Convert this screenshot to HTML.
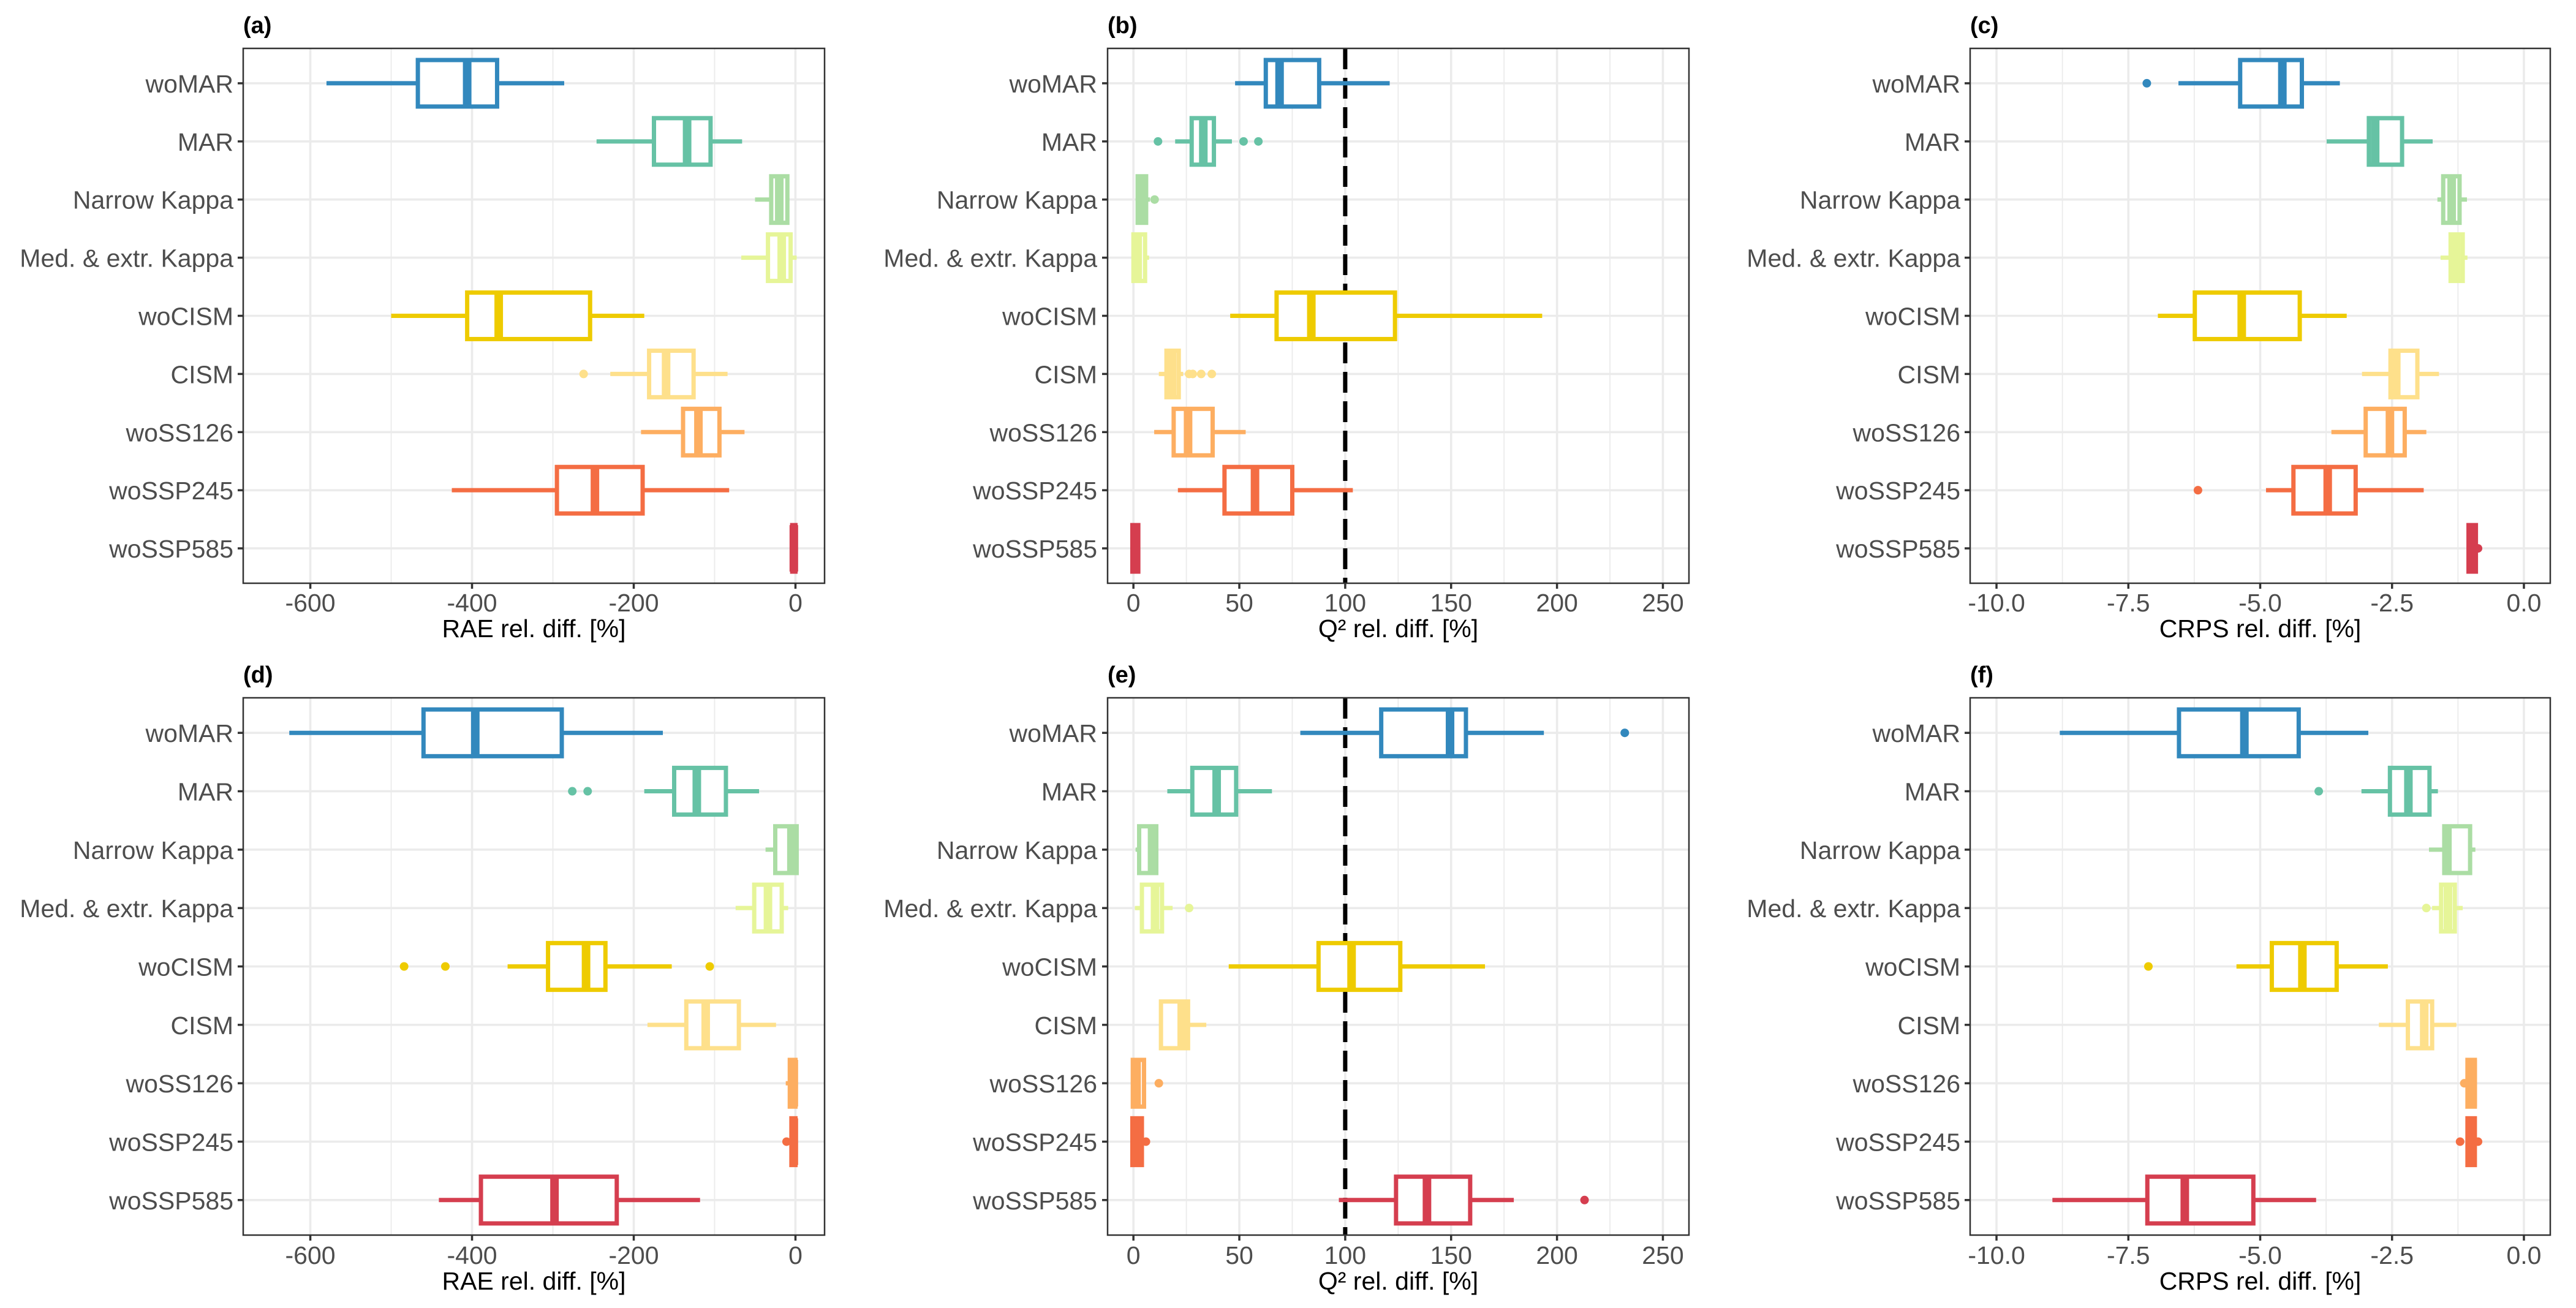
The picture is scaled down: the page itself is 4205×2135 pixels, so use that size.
<!DOCTYPE html>
<html><head><meta charset="utf-8"><style>
html,body{margin:0;padding:0;background:#fff}
svg{display:block;font-family:"Liberation Sans",Arial,sans-serif}
</style></head><body>
<svg id="fig" width="4205" height="2135" viewBox="0 0 4205 2135" xmlns="http://www.w3.org/2000/svg"></svg>
<script>
const categories=["woMAR","MAR","Narrow Kappa","Med. & extr. Kappa","woCISM","CISM","woSS126","woSSP245","woSSP585"];
const colors=["#3288bd","#66c2a5","#abdda4","#e6f598","#eecb00","#fee08b","#fdae61","#f46d43","#d53e4f"];
// panel a: RAE top
const aLo=[-580,-246,-50,-67,-500,-229,-191,-425,-4];
const aQ1=[-467,-175,-30,-34,-406,-181,-139,-295,-4];
const aMed=[-406,-134,-20,-17,-367,-160,-120,-248,-2];
const aQ3=[-369,-105,-10,-6,-254,-126,-94,-189,0];
const aHi=[-286,-66,-8,1.5,-187,-84,-63,-82,0];
const aOut=[[],[],[],[],[],[-262],[],[],[]];
// panel b: Q2 top
const bLo=[48,19.7,1.5,0,45.7,12,9.8,21,-0.5];
const bQ1=[62.5,27.5,2,0,67.6,15.6,19,43,-0.5];
const bMed=[69,33,4,2,84,18.3,25.8,57.4,1];
const bQ3=[87.7,38,6,5.5,123.5,21.4,37.4,75,2.3];
const bHi=[121,46.5,7.8,7.4,193,23.5,53,103.6,2.3];
const bOut=[[],[11.6,52,59],[10],[],[],[26.3,28,32,37],[],[],[]];
// panel c: CRPS top
const cLo=[-6.55,-3.74,-1.64,-1.58,-6.94,-3.07,-3.65,-4.89,-1.05];
const cQ1=[-5.38,-2.94,-1.53,-1.39,-6.24,-2.53,-3.0,-4.37,-1.05];
const cMed=[-4.58,-2.82,-1.37,-1.28,-5.35,-2.42,-2.54,-3.72,-0.98];
const cQ3=[-4.21,-2.31,-1.22,-1.16,-4.25,-2.02,-2.26,-3.19,-0.91];
const cHi=[-3.49,-1.73,-1.08,-1.07,-3.36,-1.61,-1.85,-1.9,-0.91];
const cOut=[[-7.15],[],[],[],[],[],[],[-6.18],[-0.87]];
// panel d: RAE bottom
const dLo=[-626,-187,-37,-74,-356,-183,-12,-5,-441];
const dQ1=[-460,-150,-25,-51,-306,-135,-7,-5,-389];
const dMed=[-396,-122,-5,-34,-259,-111,-2,-2,-298];
const dQ3=[-289,-86,1.5,-17,-235,-70,0,0,-221];
const dHi=[-164,-45,1.5,-9,-153,-24,0,0,-118];
const dOut=[[],[-276,-257],[],[],[-484,-433,-106],[],[],[-11],[]];
// panel e: Q2 bottom
const eLo=[78.8,16,1,0.7,45,12.5,-0.3,-0.5,97];
const eQ1=[117,27.8,2.7,4,87.4,13,-0.3,-0.5,124];
const eMed=[149.5,39.3,8.8,10.2,103,22.8,1.5,1,138.6];
const eQ3=[157,48.5,10.8,13.5,126,25.8,5,4,159];
const eHi=[193.8,65.4,11.8,18.5,166,34.4,5,4,179.6];
const eOut=[[232],[],[],[26.3],[],[],[12],[5.9],[213]];
// panel f: CRPS bottom
const fLo=[-8.8,-3.08,-1.8,-1.74,-5.45,-2.75,-1.07,-1.07,-8.94];
const fQ1=[-6.54,-2.54,-1.51,-1.57,-4.78,-2.2,-1.07,-1.07,-7.14];
const fMed=[-5.3,-2.19,-1.45,-1.44,-4.2,-1.89,-0.97,-1.0,-6.43];
const fQ3=[-4.27,-1.79,-1.02,-1.31,-3.55,-1.74,-0.93,-0.93,-5.13];
const fHi=[-2.95,-1.63,-0.92,-1.16,-2.58,-1.28,-0.93,-0.93,-3.94];
const fOut=[[],[-3.89],[],[-1.85],[-7.12],[],[-1.13],[-1.21,-0.87],[]];

const raeTicks=[-600,-400,-200,0], raeLabels=["-600","-400","-200","0"], raeMinor=[-500,-300,-100];
const q2Ticks=[0,50,100,150,200,250], q2Labels=["0","50","100","150","200","250"], q2Minor=[25,75,125,175,225];
const crpsTicks=[-10,-7.5,-5,-2.5,0], crpsLabels=["-10.0","-7.5","-5.0","-2.5","0.0"], crpsMinor=[-8.75,-6.25,-3.75,-1.25];

const NS="http://www.w3.org/2000/svg";
const svg=document.getElementById('fig');
function mk(tag,attrs,parent){const e=document.createElementNS(NS,tag);for(const k in attrs)e.setAttribute(k,attrs[k]);(parent||svg).appendChild(e);return e;}

const cols=[
 {x0:397,x1:1346,d0:-683,d1:36,ticks:raeTicks,labels:raeLabels,minor:raeMinor,title:"RAE rel. diff. [%]",labRight:381,ref:null},
 {x0:1808,x1:2757,d0:-12.2,d1:262.3,ticks:q2Ticks,labels:q2Labels,minor:q2Minor,title:"Q² rel. diff. [%]",labRight:1791,ref:100},
 {x0:3216,x1:4163,d0:-10.5,d1:0.5,ticks:crpsTicks,labels:crpsLabels,minor:crpsMinor,title:"CRPS rel. diff. [%]",labRight:3200,ref:null}
];
const rows=[{y0:79,y1:952,tl:983,tt:1025,pt:54},{y0:1139,y1:2016,tl:2048,tt:2090,pt:1114}];
const panels=[
 {r:0,c:0,id:"(a)",lo:aLo,q1:aQ1,med:aMed,q3:aQ3,hi:aHi,out:aOut},
 {r:0,c:1,id:"(b)",lo:bLo,q1:bQ1,med:bMed,q3:bQ3,hi:bHi,out:bOut},
 {r:0,c:2,id:"(c)",lo:cLo,q1:cQ1,med:cMed,q3:cQ3,hi:cHi,out:cOut},
 {r:1,c:0,id:"(d)",lo:dLo,q1:dQ1,med:dMed,q3:dQ3,hi:dHi,out:dOut},
 {r:1,c:1,id:"(e)",lo:eLo,q1:eQ1,med:eMed,q3:eQ3,hi:eHi,out:eOut},
 {r:1,c:2,id:"(f)",lo:fLo,q1:fQ1,med:fMed,q3:fQ3,hi:fHi,out:fOut}
];

panels.forEach(p=>{
 const C=cols[p.c],R=rows[p.r];
 const xs=v=>C.x0+(v-C.d0)/(C.d1-C.d0)*(C.x1-C.x0);
 const step=(R.y1-R.y0)/(categories.length-1+1.2);
 const ys=i=>R.y0+(i+0.6)*step;
 const g=mk('g',{});
 
 
 const t=mk('text',{x:C.x0,y:R.pt,'font-size':38,'font-weight':'bold',fill:'#000'},g);
 t.textContent=p.id;
 
 
 C.minor.forEach(v=>{const l=mk('line',{x1:xs(v),x2:xs(v),y1:R.y0,y2:R.y1,stroke:'#ebebeb','stroke-width':1.8},g);
  
  });
 C.ticks.forEach(v=>{const l=mk('line',{x1:xs(v),x2:xs(v),y1:R.y0,y2:R.y1,stroke:'#ebebeb','stroke-width':3.6},g);
  
  });
 categories.forEach((c,i)=>{const l=mk('line',{x1:C.x0,x2:C.x1,y1:ys(i),y2:ys(i),stroke:'#ebebeb','stroke-width':3.6},g);
  
  });
 if(C.ref!==null){const l=mk('line',{x1:xs(C.ref),x2:xs(C.ref),y1:R.y0,y2:R.y1,stroke:'#000','stroke-width':7,'stroke-dasharray':'34,14'},g);
  
  }
 const bh=step*0.8;
 categories.forEach((c,i)=>{
  const bg=mk('g',{},g);
  
  
  const col=colors[i],y=ys(i);
  mk('line',{x1:xs(p.lo[i]),x2:xs(p.q1[i]),y1:y,y2:y,stroke:col,'stroke-width':7},bg);
  mk('line',{x1:xs(p.q3[i]),x2:xs(p.hi[i]),y1:y,y2:y,stroke:col,'stroke-width':7},bg);
  const xa=xs(p.q1[i]),xb=xs(p.q3[i]);
  mk('rect',{x:xa,y:y-bh/2,width:Math.max(xb-xa,0.1),height:bh,fill:'#fff',stroke:col,'stroke-width':7},bg);
  mk('line',{x1:xs(p.med[i]),x2:xs(p.med[i]),y1:y-bh/2,y2:y+bh/2,stroke:col,'stroke-width':14},bg);
  p.out[i].forEach(v=>{const o=mk('circle',{cx:xs(v),cy:y,r:7,fill:col},bg);
   
   });
  const lab=mk('text',{x:C.labRight,y:y+15,'font-size':41,fill:'#4d4d4d','text-anchor':'end'},g);
  lab.textContent=c;
  
  
  mk('line',{x1:C.x0-9,x2:C.x0,y1:y,y2:y,stroke:'#333','stroke-width':3.5},g);
 });
 const b=mk('rect',{x:C.x0,y:R.y0,width:C.x1-C.x0,height:R.y1-R.y0,fill:'none',stroke:'#333','stroke-width':2.5},g);
 
 
 C.ticks.forEach((v,k)=>{
  mk('line',{x1:xs(v),x2:xs(v),y1:R.y1,y2:R.y1+9,stroke:'#333','stroke-width':3.5},g);
  const tl=mk('text',{x:xs(v),y:R.tl+15,'font-size':41,fill:'#4d4d4d','text-anchor':'middle'},g);
  tl.textContent=C.labels[k];
  
  
 });
 const at=mk('text',{x:(C.x0+C.x1)/2,y:R.tt+15,'font-size':41,fill:'#000','text-anchor':'middle'},g);
 at.textContent=C.title;
 
 
});
</script>
</body></html>
